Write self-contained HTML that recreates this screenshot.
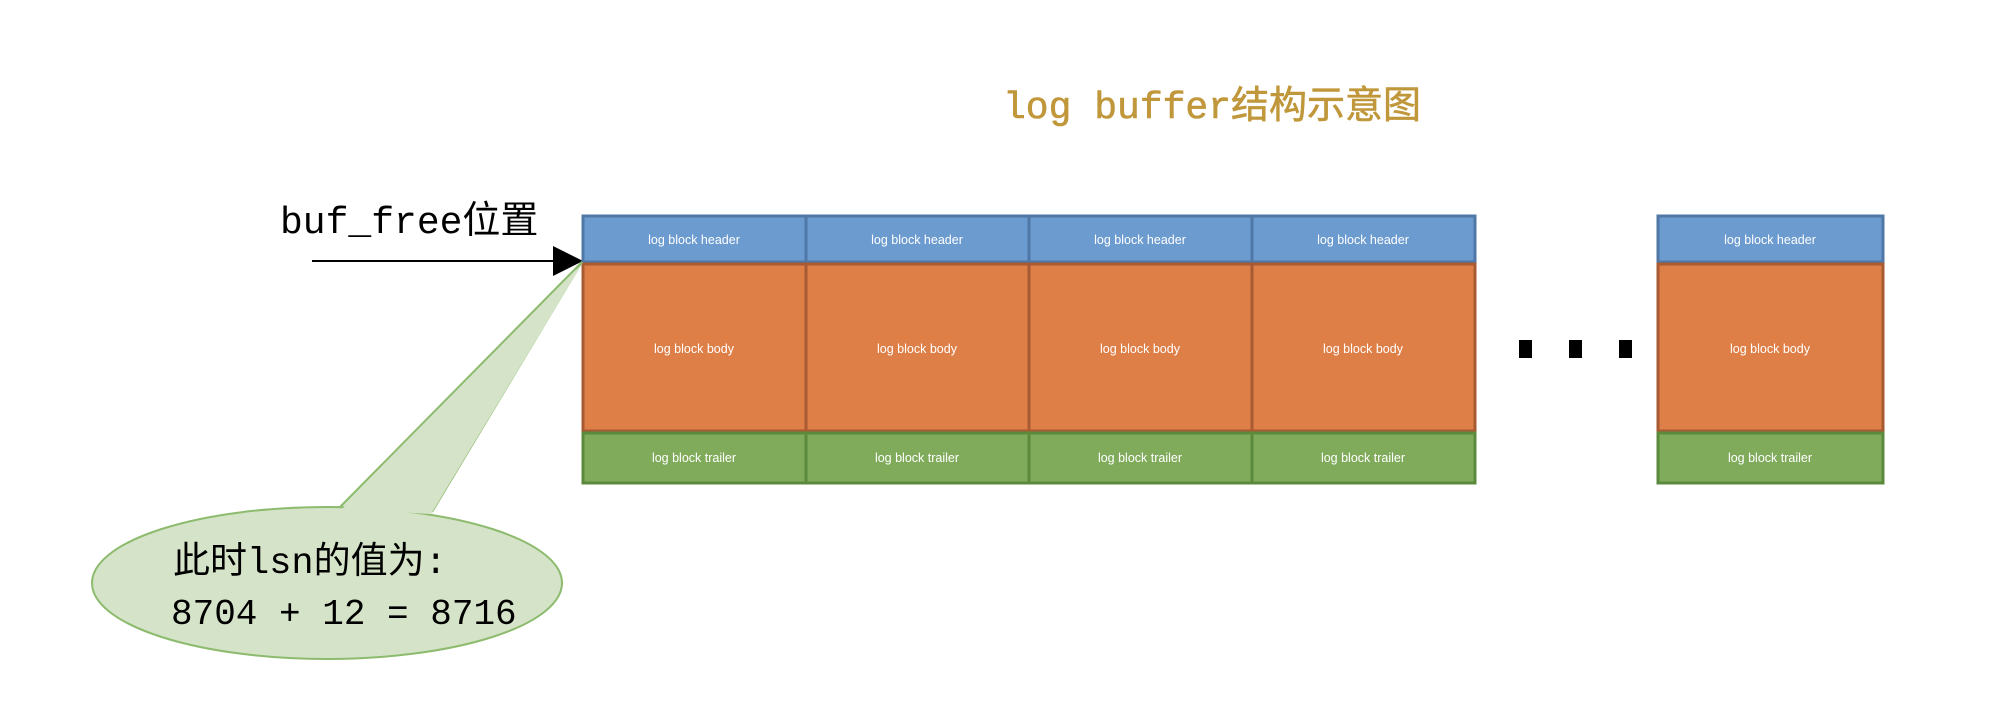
<!DOCTYPE html>
<html><head><meta charset="utf-8"><style>
html,body{margin:0;padding:0;background:#fff;}
svg{display:block;}
.l{font-family:"Liberation Sans",sans-serif;font-size:12.5px;fill:#fff;text-anchor:middle;}
.m{font-family:"Liberation Mono","Noto Sans CJK SC",monospace;}
</style></head><body>
<svg width="2006" height="702" viewBox="0 0 2006 702" xmlns="http://www.w3.org/2000/svg">
<text x="1003" y="118" class="m" font-size="38" fill="#c0973a" stroke="#c0973a" stroke-width="0.6">log buffer结构示意图</text>
<text x="280" y="233" class="m" font-size="38" fill="#000">buf_free位置</text>
<line x1="312" y1="261" x2="560" y2="261" stroke="#000" stroke-width="2"/>
<polygon points="553,246 583,261 553,276" fill="#000"/>
<g stroke-width="3">
<rect x="583" y="216" width="223" height="46" fill="#6c9bd0" stroke="#4f78a6"/>
<rect x="806" y="216" width="223" height="46" fill="#6c9bd0" stroke="#4f78a6"/>
<rect x="1029" y="216" width="223" height="46" fill="#6c9bd0" stroke="#4f78a6"/>
<rect x="1252" y="216" width="223" height="46" fill="#6c9bd0" stroke="#4f78a6"/>
<rect x="1658" y="216" width="225" height="46" fill="#6c9bd0" stroke="#4f78a6"/>
<rect x="583" y="264" width="223" height="167" fill="#de7f48" stroke="#a85a32"/>
<rect x="806" y="264" width="223" height="167" fill="#de7f48" stroke="#a85a32"/>
<rect x="1029" y="264" width="223" height="167" fill="#de7f48" stroke="#a85a32"/>
<rect x="1252" y="264" width="223" height="167" fill="#de7f48" stroke="#a85a32"/>
<rect x="1658" y="264" width="225" height="167" fill="#de7f48" stroke="#a85a32"/>
<rect x="583" y="433" width="223" height="50" fill="#80ab5b" stroke="#5b8a3c"/>
<rect x="806" y="433" width="223" height="50" fill="#80ab5b" stroke="#5b8a3c"/>
<rect x="1029" y="433" width="223" height="50" fill="#80ab5b" stroke="#5b8a3c"/>
<rect x="1252" y="433" width="223" height="50" fill="#80ab5b" stroke="#5b8a3c"/>
<rect x="1658" y="433" width="225" height="50" fill="#80ab5b" stroke="#5b8a3c"/>
</g>
<text x="694" y="244" class="l">log block header</text>
<text x="917" y="244" class="l">log block header</text>
<text x="1140" y="244" class="l">log block header</text>
<text x="1363" y="244" class="l">log block header</text>
<text x="1770" y="244" class="l">log block header</text>
<text x="694" y="353" class="l">log block body</text>
<text x="917" y="353" class="l">log block body</text>
<text x="1140" y="353" class="l">log block body</text>
<text x="1363" y="353" class="l">log block body</text>
<text x="1770" y="353" class="l">log block body</text>
<text x="694" y="462" class="l">log block trailer</text>
<text x="917" y="462" class="l">log block trailer</text>
<text x="1140" y="462" class="l">log block trailer</text>
<text x="1363" y="462" class="l">log block trailer</text>
<text x="1770" y="462" class="l">log block trailer</text>
<rect x="1519" y="340" width="13" height="18" fill="#000"/>
<rect x="1569" y="340" width="13" height="18" fill="#000"/>
<rect x="1619" y="340" width="13" height="18" fill="#000"/>
<path d="M340,507 L582,262 L432,512" fill="#d5e4c8" stroke="#8dbb6e" stroke-width="2"/>
<ellipse cx="327" cy="583" rx="235" ry="76" fill="#d5e4c8" stroke="#8dbb6e" stroke-width="2"/>
<polygon points="342,509 582,264 431,514" fill="#d5e4c8"/>
<text x="173" y="573" class="m" font-size="37" fill="#000">此时lsn的值为:</text>
<text x="171" y="624" class="m" font-size="36" fill="#000">8704 + 12 = 8716</text>
</svg>
</body></html>
